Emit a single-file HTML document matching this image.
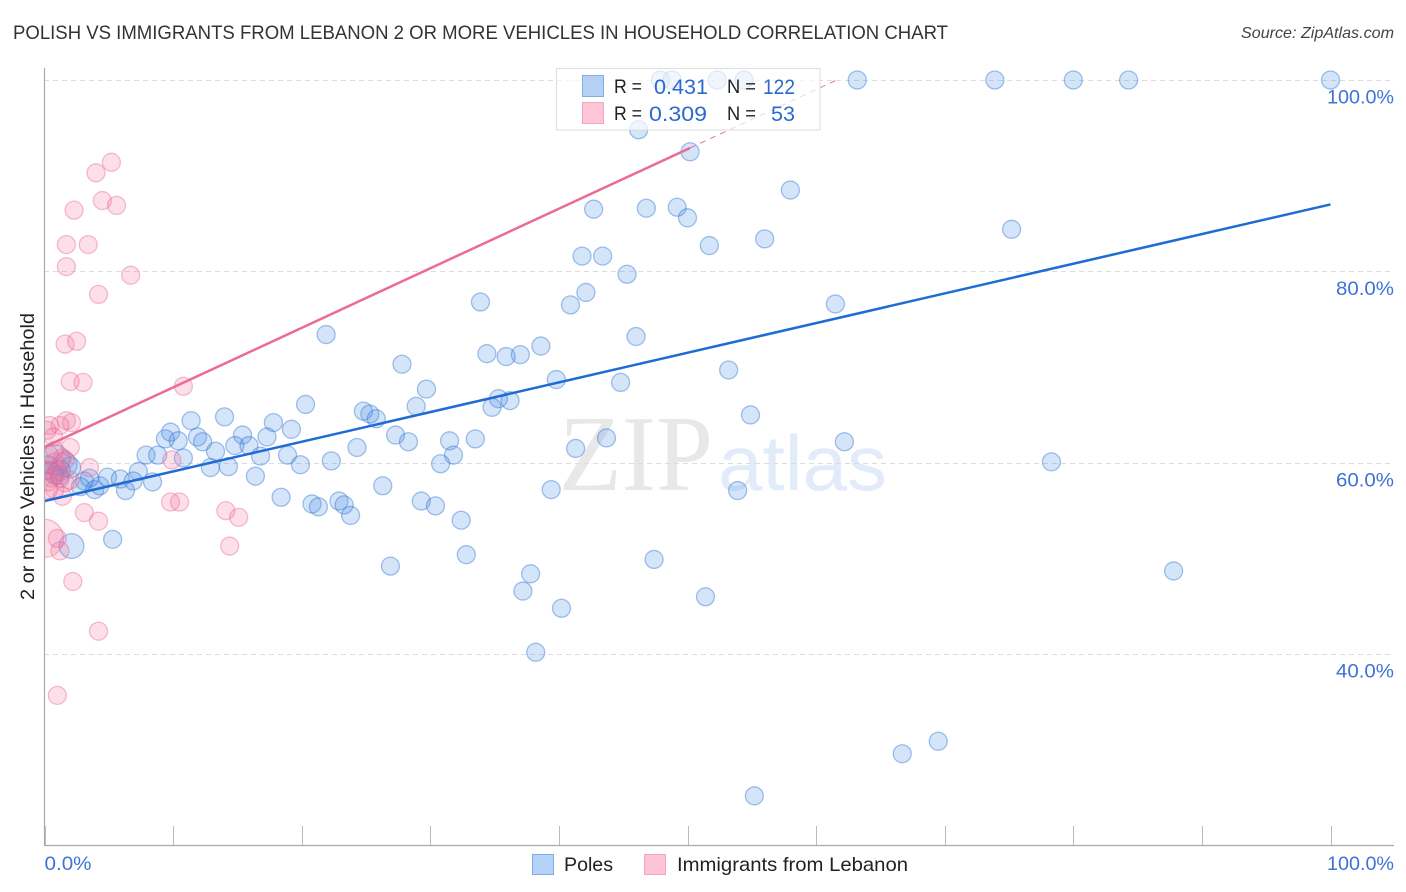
<!DOCTYPE html>
<html lang="en">
<head>
<meta charset="utf-8">
<title>Polish vs Immigrants from Lebanon 2 or More Vehicles in Household Correlation Chart</title>
<style>
html,body{margin:0;padding:0;background:#fff;}
svg{display:block;font-family:"Liberation Sans",sans-serif;}
</style>
</head>
<body>
<svg id="chart" xmlns="http://www.w3.org/2000/svg" width="1406" height="892" viewBox="0 0 1406 892">
  <defs><clipPath id="plot-clip"><rect x="45" y="60" width="1349" height="786"/></clipPath></defs>
  <rect x="0" y="0" width="1406" height="892" fill="#ffffff"/>
  <text x="13" y="39" font-size="19.5" fill="#333333" textLength="935" lengthAdjust="spacingAndGlyphs">POLISH VS IMMIGRANTS FROM LEBANON 2 OR MORE VEHICLES IN HOUSEHOLD CORRELATION CHART</text>
  <text x="1241" y="38" font-size="16" font-style="italic" fill="#444444" textLength="153" lengthAdjust="spacingAndGlyphs">Source: ZipAtlas.com</text>
  <text x="559" y="490" font-family="'Liberation Serif',serif" font-size="108" fill="#e8e8e8" textLength="154" lengthAdjust="spacingAndGlyphs">ZIP</text>
  <text x="718" y="490" font-size="78" fill="#e2ebf9" textLength="169" lengthAdjust="spacingAndGlyphs">atlas</text>
  <g id="grid"></g>
  <g id="marks" clip-path="url(#plot-clip)"></g>
  <rect x="0" y="60" width="44.5" height="786" fill="#ffffff"/>
  <g id="axes"></g>
  <text transform="translate(34 456.5) rotate(-90)" font-size="19" fill="#222222" text-anchor="middle" textLength="287" lengthAdjust="spacingAndGlyphs">2 or more Vehicles in Household</text>
  <g id="stats-legend">
    <rect x="556.5" y="68.5" width="263.5" height="61.5" fill="#ffffff" fill-opacity="0.68" stroke="#dddddd" stroke-width="1"/>
    <rect x="582.5" y="75.5" width="21" height="21" fill="#b5cff5" stroke="#82aee8" stroke-width="1"/>
    <rect x="582.5" y="102.5" width="21" height="21" fill="#fcc6d7" stroke="#f2a7c0" stroke-width="1"/>
    <text x="614" y="93" font-size="19.5" fill="#222222" textLength="28" lengthAdjust="spacingAndGlyphs">R =</text>
    <text x="654" y="94" font-size="21" fill="#2a6ad0" textLength="54" lengthAdjust="spacingAndGlyphs">0.431</text>
    <text x="727" y="93" font-size="19.5" fill="#222222" textLength="29" lengthAdjust="spacingAndGlyphs">N =</text>
    <text x="763" y="94" font-size="21" fill="#2a6ad0" textLength="32" lengthAdjust="spacingAndGlyphs">122</text>
    <text x="614" y="120" font-size="19.5" fill="#222222" textLength="28" lengthAdjust="spacingAndGlyphs">R =</text>
    <text x="649" y="121" font-size="21" fill="#2a6ad0" textLength="58" lengthAdjust="spacingAndGlyphs">0.309</text>
    <text x="727" y="120" font-size="19.5" fill="#222222" textLength="29" lengthAdjust="spacingAndGlyphs">N =</text>
    <text x="771" y="121" font-size="21" fill="#2a6ad0" textLength="24" lengthAdjust="spacingAndGlyphs">53</text>
  </g>
  <g id="bottom-legend">
    <rect x="532.5" y="854.5" width="21" height="20" fill="#b5d2f7" stroke="#7faae6" stroke-width="1"/>
    <text x="564" y="871" font-size="19.5" fill="#222222" textLength="49" lengthAdjust="spacingAndGlyphs">Poles</text>
    <rect x="644.5" y="854.5" width="21" height="20" fill="#fdc3d6" stroke="#f2a7c0" stroke-width="1"/>
    <text x="677" y="871" font-size="19.5" fill="#222222" textLength="231" lengthAdjust="spacingAndGlyphs">Immigrants from Lebanon</text>
  </g>
</svg>
<script>
var yTickValues = [100, 80, 60, 40];
var yTickLabels = ["100.0%", "80.0%", "60.0%", "40.0%"];
var xTickValues = [0, 10, 20, 30, 40, 50, 60, 70, 80, 90, 100];
var xEndValues = [0, 100];
var xEndLabels = ["0.0%", "100.0%"];

var polesX = [2.1,0.8,1.6,1.2,2.0,0.4,0.8,3.1,3.9,4.3,2.8,1.2,0.3,3.5,
46.2,47.9,48.8,52.3,54.4,63.2,73.9,80.0,84.3,100,50.2,58.0,42.7,46.8,49.2,50.0,75.2,51.7,56.0,41.8,43.4,45.3,42.1,40.9,33.9,61.5,
21.9,46.0,38.6,34.4,35.9,37.0,27.8,53.2,39.8,44.8,29.7,35.3,36.2,34.8,28.9,20.3,24.8,25.3,25.8,14.0,11.4,17.8,19.2,54.9,9.8,9.4,
10.4,11.9,12.3,15.4,17.3,27.3,28.3,31.5,33.5,24.3,43.7,62.2,41.3,13.3,14.8,15.9,7.9,8.8,10.8,16.8,18.9,31.8,78.3,22.3,19.9,30.8,
12.9,14.3,7.3,16.4,4.9,5.9,6.9,8.4,26.3,39.4,53.9,6.3,18.4,20.8,22.9,23.3,21.3,23.8,29.3,30.4,32.4,5.3,32.8,47.4,26.9,37.8,87.8,
37.2,51.4,40.2,38.2,69.5,66.7,55.2];
var polesY = [51.3,60.3,59.8,59.2,59.5,59.2,58.7,58.1,57.2,57.6,57.5,58.4,59.8,58.4,
94.8,100,100,100,100,100,100,100,100,100,92.5,88.5,86.5,86.6,86.7,85.6,84.4,82.7,83.4,81.6,81.6,79.7,77.8,76.5,76.8,76.6,
73.4,73.2,72.2,71.4,71.1,71.3,70.3,69.7,68.7,68.4,67.7,66.7,66.5,65.8,65.9,66.1,65.4,65.1,64.6,64.8,64.4,64.2,63.5,65.0,63.2,62.5,
62.3,62.7,62.2,62.9,62.7,62.9,62.2,62.3,62.5,61.6,62.6,62.2,61.5,61.2,61.8,61.8,60.8,60.8,60.5,60.7,60.8,60.8,60.1,60.2,59.8,59.9,
59.5,59.6,59.1,58.6,58.5,58.3,58.1,58.0,57.6,57.2,57.1,57.1,56.4,55.7,56.0,55.6,55.4,54.5,56.0,55.5,54.0,52.0,50.4,49.9,49.2,48.4,48.7,
46.6,46.0,44.8,40.2,30.9,29.6,25.2];
var polesN = [1.9,2.8,1.8,1.3,1.3];

var lebanonX = [0,5.2,4.0,4.5,5.6,2.3,1.7,3.4,1.7,6.7,4.2,1.6,2.5,2.0,3.0,10.8,1.7,2.1,1.2,0.4,0.7,2.0,9.9,3.5,1.4,0.8,0.4,1.0,0.6,0.3,1.6,0.8,1.4,3.1,4.2,9.8,10.5,14.1,15.1,14.4,1.0,1.2,2.2,4.2,1.0,0.3,1.6,0.4,0.8,1.2,0,0.2,2.0];
var lebanonY = [52.1,91.4,90.3,87.4,86.9,86.4,82.8,82.8,80.5,79.6,77.6,72.4,72.7,68.5,68.4,68.0,64.4,64.2,63.9,63.9,62.7,61.6,60.3,59.5,60.5,60.1,59.2,59.2,58.4,58.0,57.9,57.2,56.5,54.8,53.9,55.9,55.9,55.0,54.3,51.3,52.1,50.8,47.6,42.4,35.7,57.2,60.3,60.8,61.3,58.7,59.2,63.4,58.2];
var lebanonN = [4.5];

var polesTrendX = [0, 100];
var polesTrendY = [56.0, 87.0];
var lebanonTrendX = [0, 50.2];
var lebanonTrendY = [61.65, 92.9];
var lebanonTrendDashX = [50.2, 61.6];
var lebanonTrendDashY = [92.9, 100];

var NS = "http://www.w3.org/2000/svg";
function xScale(v) { return 44.5 + v * 12.86; }
function yScale(v) { return 80 + (100 - v) * 9.57; }
function rScale(n) { return 9 * Math.sqrt(n); }
function make(tag, attrs, parent) {
  var el = document.createElementNS(NS, tag);
  for (var k in attrs) el.setAttribute(k, attrs[k]);
  parent.appendChild(el);
  return el;
}
var grid = document.getElementById("grid");
var axes = document.getElementById("axes");
var marks = document.getElementById("marks");

yTickValues.forEach(function (v, i) {
  var gy = Math.round(yScale(v)) + 0.5;
  var line = make("line", {x1: 44, x2: 1394, y1: gy, y2: gy, stroke: "#dcdcdc", "stroke-width": 1, "stroke-dasharray": "5 4"}, grid);
  
  
  var label = make("text", {x: 1394, y: yScale(v) + 23.5, "font-size": 19.5, fill: "#3f72d6", "text-anchor": "end", textLength: yTickLabels[i].length > 5 ? 67 : 58, lengthAdjust: "spacingAndGlyphs"}, axes);
  
  
  label.textContent = yTickLabels[i];
});

var yAxis = make("line", {x1: 44.5, x2: 44.5, y1: 68, y2: 846, stroke: "#aaaaaa", "stroke-width": 1.2}, axes);


var xAxis = make("line", {x1: 44, x2: 1394, y1: 845.5, y2: 845.5, stroke: "#aaaaaa", "stroke-width": 1.2}, axes);



xTickValues.forEach(function (v) {
  var tx = Math.round(xScale(v)) + 0.5;
  var tick = make("line", {x1: tx, x2: tx, y1: 826, y2: 845, stroke: "#bbbbbb", "stroke-width": 1}, axes);
  
  
});
xEndValues.forEach(function (v, i) {
  var label = make("text", {x: i === 0 ? xScale(v) : 1394, y: 870, "font-size": 19.5, fill: "#3f72d6", "text-anchor": i === 0 ? "start" : "end", textLength: i === 0 ? 47 : 67, lengthAdjust: "spacingAndGlyphs"}, axes);
  
  
  label.textContent = xEndLabels[i];
});

polesX.forEach(function (v, i) {
  var c = make("circle", {cx: xScale(v), cy: yScale(polesY[i]), r: rScale(polesN[i] || 1), fill: "#4a90e8", "fill-opacity": 0.24, stroke: "#2a6fd0", "stroke-opacity": 0.42, "stroke-width": 1.3}, marks);
  
  
});
lebanonX.forEach(function (v, i) {
  var c = make("circle", {cx: xScale(v), cy: yScale(lebanonY[i]), r: rScale(lebanonN[i] || 1), fill: "#f178a2", "fill-opacity": 0.24, stroke: "#e8608f", "stroke-opacity": 0.4, "stroke-width": 1.3}, marks);
  
  
});

var t1 = make("line", {x1: xScale(polesTrendX[0]), y1: yScale(polesTrendY[0]), x2: xScale(polesTrendX[1]), y2: yScale(polesTrendY[1]), stroke: "#1f6bd6", "stroke-width": 2.5}, marks);


var t2 = make("line", {x1: xScale(lebanonTrendX[0]), y1: yScale(lebanonTrendY[0]), x2: xScale(lebanonTrendX[1]), y2: yScale(lebanonTrendY[1]), stroke: "#ec6a96", "stroke-width": 2.5}, marks);


var t3 = make("line", {x1: xScale(lebanonTrendDashX[0]), y1: yScale(lebanonTrendDashY[0]), x2: xScale(lebanonTrendDashX[1]), y2: yScale(lebanonTrendDashY[1]), stroke: "#ec6a96", "stroke-width": 1, "stroke-dasharray": "6 5"}, marks);


</script>
</body>
</html>
